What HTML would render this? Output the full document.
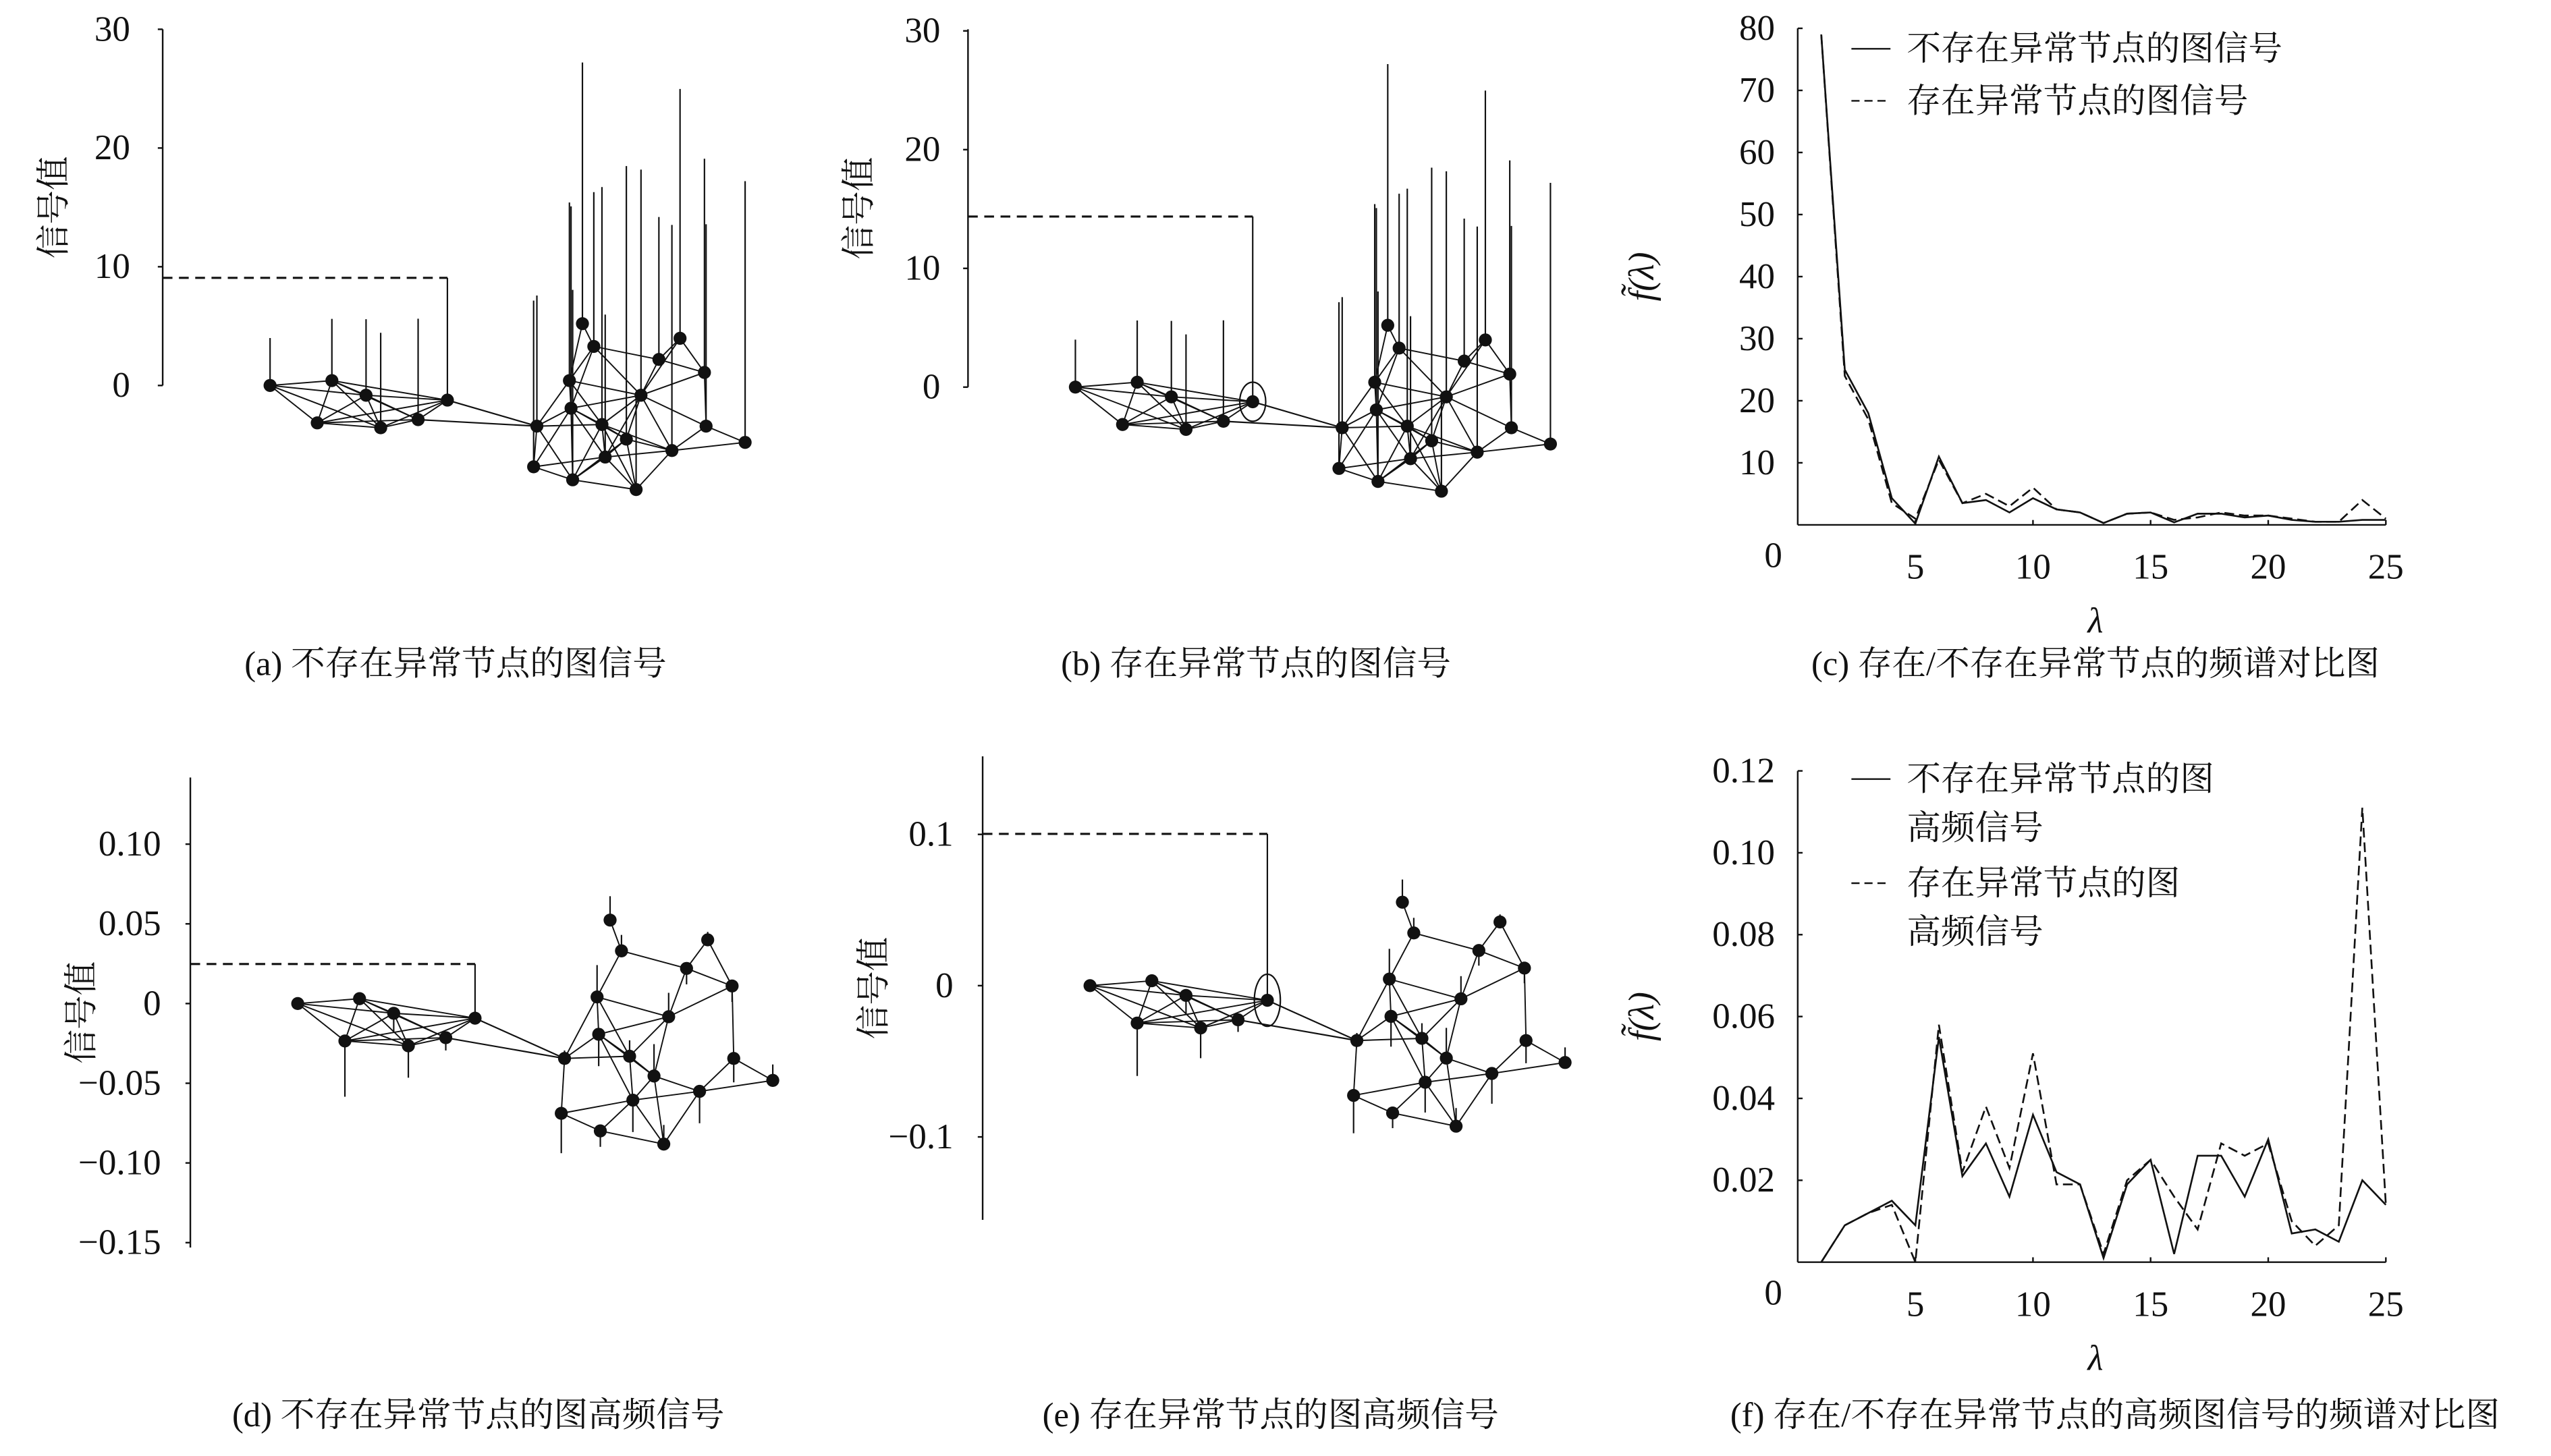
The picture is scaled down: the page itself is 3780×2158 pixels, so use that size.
<!DOCTYPE html>
<html><head><meta charset="utf-8"><style>
html,body{margin:0;padding:0;background:#fff}
svg{display:block}
text{fill:#111}
.t{font-family:"Liberation Serif","Noto Serif CJK SC",serif;font-size:22px}
.c{font-family:"Liberation Serif","Noto Serif CJK SC",serif;font-size:21px}
</style></head><body>
<svg id="fig" width="3780" height="2158" viewBox="0 0 3780 2158" xmlns="http://www.w3.org/2000/svg">
<g id="root" transform="scale(2.4107)"></g>
</svg>
<script>
// spectrum chart data (c)
const lambdas=[1,2,3,4,5,6,7,8,9,10,11,12,13,14,15,16,17,18,19,20,21,22,23,24,25];
const cSolid=[79,25,18,4.3,0.2,11,3.5,4,2,4.3,2.5,2,0.3,1.8,2,0.4,1.8,1.8,1.2,1.5,0.8,0.5,0.5,0.8,0.8];
const cDashed=[79,24,17,3.5,1,10.5,3.5,5,3,6,2.5,2,0.3,1.8,2,0.8,1.2,2,1.5,1.5,1,0.5,0.5,4,1];
const cTicksY=[10,20,30,40,50,60,70,80];
// spectrum chart data (f)
const fSolid=[0,0.009,0.012,0.015,0.009,0.055,0.021,0.029,0.016,0.036,0.022,0.019,0.001,0.019,0.025,0.002,0.026,0.026,0.016,0.030,0.007,0.008,0.005,0.020,0.014];
const fDashed=[0,0.009,0.012,0.014,0,0.058,0.022,0.038,0.023,0.051,0.019,0.019,0.002,0.020,0.025,0.016,0.008,0.029,0.026,0.029,0.010,0.004,0.009,0.111,0.014];
const fTicksY=[0.02,0.04,0.06,0.08,0.10,0.12];
const fTickLabels=["0.02","0.04","0.06","0.08","0.10","0.12"];
const xTicks=[5,10,15,20,25];
// graph signal values (per node: 7 left cluster + 18 right cluster)
const sigA=[4,5.2,6.4,10.3,0.5,8,8.5, 22,13,12,21,15,18,19,17,20,11,23,17,22,19,12,14,16,8];
const sigB=[4,5.2,6.4,15.6,0.5,8,8.5, 22,13,12,21,15,18,19,17,20,11,23,17,22,19,12,14,16,8];
const sigD=[0.002,0.004,-0.012,0.034,-0.035,-0.02,-0.008, 0.015,0.01,-0.01,0.005,0.02,-0.01,0.015,-0.02,0.01,0.005,0.02,-0.015,0.01,-0.02,-0.02,-0.025,-0.01,0.012];
const sigE=[0.002,0.004,-0.012,0.11,-0.035,-0.02,-0.008, 0.015,0.01,-0.01,0.005,0.02,-0.01,0.015,-0.02,0.01,0.005,0.02,-0.015,0.01,-0.02,-0.02,-0.025,-0.01,0.012];

const NS="http://www.w3.org/2000/svg";
const root=document.getElementById('root');
function mk(tag,attrs,parent,txt){const e=document.createElementNS(NS,tag);for(const k in attrs)e.setAttribute(k,attrs[k]);if(txt!==undefined)e.textContent=txt;(parent||root).appendChild(e);return e;}

const rel=[[66,0],[104,-3],[125,6],[175,9],[95,23],[134,26],[157,21],
[258,-38],[265,-24],[305,-16],[318,-29],[250,-3],[333,-8],[294,6],[251,14],[270,24],[230,25],[285,33],[334,25],[358,35],[313,40],[272,44],[228,50],[252,58],[291,64]];

function graphPanel(name,ox,oy,sc,vals,ticks,tickLbl,axTop,axBot,lblX,stretch,anom){
  const g=mk('g',{},root);
  
  
  const ax=mk('line',{x1:ox,y1:axTop,x2:ox,y2:axBot,stroke:'#111','stroke-width':1},g);
  
  ticks.forEach((t,i)=>{const y=oy-t*sc;
    const tk=mk('line',{x1:ox-3,y1:y,x2:ox,y2:y,stroke:'#111','stroke-width':1},g);
    
    const tl=mk('text',{x:lblX,y:y+7,'text-anchor':'end',class:'t'},g,tickLbl[i]);
    });
  const yl=mk('text',{x:0,y:0,class:'c',transform:`translate(${ox-60},${(axTop+axBot)/2}) rotate(-90)`,'text-anchor':'middle'},g,'信号值');
  
  const P=rel.map((r,i)=>[ox+r[0],oy+(i>=7?r[1]*stretch:r[1])]);
  for(let i=0;i<P.length;i++)for(let j=i+1;j<P.length;j++){
    const same=(i<7)===(j<7);const d=Math.hypot(P[i][0]-P[j][0],P[i][1]-P[j][1]);
    if(same&&d<(i<7?85:46)){const e=mk('line',{x1:P[i][0],y1:P[i][1],x2:P[j][0],y2:P[j][1],stroke:'#111','stroke-width':0.8},g);
      }
  }
  [[3,16],[6,16]].forEach(([i,j])=>{const e=mk('line',{x1:P[i][0],y1:P[i][1],x2:P[j][0],y2:P[j][1],stroke:'#111','stroke-width':0.9},g);
    });
  vals.forEach((v,i)=>{const y2=P[i][1]-v*sc;
    const s=mk('line',{x1:P[i][0],y1:P[i][1],x2:P[i][0],y2:y2,stroke:'#111','stroke-width':0.9},g);
    });
  P.forEach(p=>{const c=mk('circle',{cx:p[0],cy:p[1],r:4,fill:'#111'},g);
    });
  const k=3,ty=P[k][1]-vals[k]*sc;
  const dl=mk('line',{x1:ox,y1:ty,x2:P[k][0],y2:ty,stroke:'#111','stroke-width':1.3,'stroke-dasharray':'6 4'},g);
  
  if(anom){const el=mk('ellipse',{cx:P[k][0],cy:P[k][1],rx:8,ry:anom,fill:'none',stroke:'#111','stroke-width':0.9},g);
    }
}
graphPanel('panel-a',100,237,7.3,sigA,[0,10,20,30],['0','10','20','30'],18,237,80,1,0);
graphPanel('panel-b',595,238,7.3,sigB,[0,10,20,30],['0','10','20','30'],18,238,578,1,12);
graphPanel('panel-d',117,617,980,sigD,[0.10,0.05,0,-0.05,-0.10,-0.15],['0.10','0.05','0','−0.05','−0.10','−0.15'],478,767,99,1.35,0);
graphPanel('panel-e',604,606,930,sigE,[0.1,0,-0.1],['0.1','0','−0.1'],465,750,586,1.35,16);

function spectrum(name,y0,ppu,ticks,tlabels,solid,dashed,legend){
  const g=mk('g',{},root);
  
  const x0=1105,xu=14.46;
  const X=v=>x0+v*xu,Y=v=>y0-v*ppu;
  const top=Y(ticks[ticks.length-1]);
  const a1=mk('line',{x1:x0,y1:top,x2:x0,y2:y0,stroke:'#111','stroke-width':1},g);
  
  const a2=mk('line',{x1:x0,y1:y0,x2:X(25),y2:y0,stroke:'#111','stroke-width':1},g);
  
  ticks.forEach((t,i)=>{const tk=mk('line',{x1:x0,y1:Y(t),x2:x0+3,y2:Y(t),stroke:'#111','stroke-width':1},g);
    
    const tl=mk('text',{x:x0-14,y:Y(t)+7,'text-anchor':'end',class:'t'},g,tlabels[i]);
    });
  const z=mk('text',{x:1090,y:y0+26,'text-anchor':'middle',class:'t'},g,'0');
  
  xTicks.forEach(t=>{const tk=mk('line',{x1:X(t),y1:y0,x2:X(t),y2:y0-3,stroke:'#111','stroke-width':1},g);
    
    const tl=mk('text',{x:X(t),y:y0+33,'text-anchor':'middle',class:'t'},g,String(t));
    });
  const xl=mk('text',{x:1288,y:y0+66,'text-anchor':'middle',class:'t','font-style':'italic'},g,'λ');
  
  const yl=mk('text',{x:0,y:0,class:'t','font-style':'italic','text-anchor':'middle',transform:`translate(1016,${(top+y0)/2}) rotate(-90)`},g,'f̃(λ)');
  
  const ps=lambdas.map((l,i)=>X(l)+','+Y(solid[i])).join(' ');
  const pd=lambdas.map((l,i)=>X(l)+','+Y(dashed[i])).join(' ');
  const l1=mk('polyline',{points:ps,fill:'none',stroke:'#111','stroke-width':1.1},g);
  
  const l2=mk('polyline',{points:pd,fill:'none',stroke:'#111','stroke-width':1.1,'stroke-dasharray':'6 3'},g);
  
  legend.forEach(e=>{const ln=mk('line',{x1:1138,y1:e.y-7,x2:1162,y2:e.y-7,stroke:'#111','stroke-width':1,'stroke-dasharray':e.d},g);
    
    e.lines.forEach((s,j)=>{const t=mk('text',{x:1172,y:e.y+j*30,class:'c'},g,s);
      });});
}
spectrum('panel-c',322.7,3.816,cTicksY,cTicksY.map(String),cSolid,cDashed,
 [{y:37,d:'',lines:['不存在异常节点的图信号']},{y:69,d:'5 3',lines:['存在异常节点的图信号']}]);
spectrum('panel-f',776,2517,fTicksY,fTickLabels,fSolid,fDashed,
 [{y:486,d:'',lines:['不存在异常节点的图','高频信号']},{y:550,d:'5 3',lines:['存在异常节点的图','高频信号']}]);

[[280,415,'(a) 不存在异常节点的图信号'],[772,415,'(b) 存在异常节点的图信号'],[1288,415,'(c) 存在/不存在异常节点的频谱对比图'],
 [294,877,'(d) 不存在异常节点的图高频信号'],[781,877,'(e) 存在异常节点的图高频信号'],[1300,877,'(f) 存在/不存在异常节点的高频图信号的频谱对比图']].forEach(c=>{
  const t=mk('text',{x:c[0],y:c[1],'text-anchor':'middle',class:'c'},root,c[2]);
  });
</script>
</body></html>
